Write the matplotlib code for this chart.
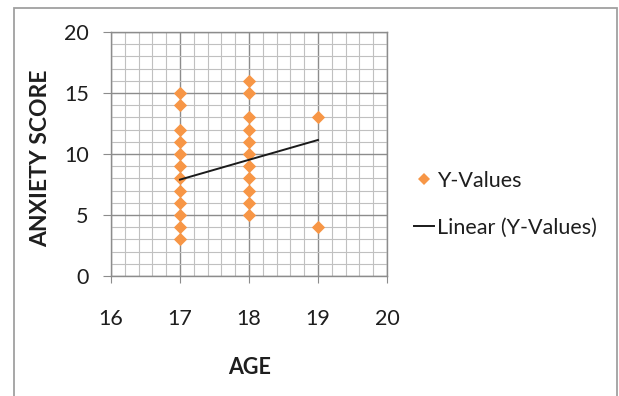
import matplotlib.pyplot as plt
from matplotlib.patches import Rectangle
from matplotlib.lines import Line2D
from matplotlib.ticker import MultipleLocator

plt.rcParams['font.family'] = ['Lato', 'DejaVu Sans']

# age / anxiety score pairs
age = [17] * 12 + [18] * 11 + [19] * 2
score = [15, 14, 12, 11, 10, 9, 8, 7, 6, 5, 4, 3,
         16, 15, 13, 12, 11, 10, 9, 8, 7, 6, 5,
         13, 4]

# linear trendline end points
trend_x = [17, 19]
trend_y = [7.9, 11.15]

x_ticks = [16, 17, 18, 19, 20]
y_ticks = [0, 5, 10, 15, 20]

orange = '#F79646'
major_grey = '#8c8c8c'
minor_grey = '#c0c0c0'
text_col = '#1e1e1e'

fig = plt.figure(figsize=(6.19, 3.96), dpi=100)
ax = fig.add_axes([0.1793, 0.3030, 0.4459, 0.6162])

ax.scatter(age, score, marker='D', s=46, color=orange, zorder=3, linewidths=0)
ax.plot(trend_x, trend_y, color='#1a1a1a', lw=1.4, zorder=4)

ax.set_xlim(16, 20)
ax.set_ylim(0, 20)
ax.set_xticks(x_ticks)
ax.set_yticks(y_ticks)
ax.xaxis.set_minor_locator(MultipleLocator(0.2))
ax.yaxis.set_minor_locator(MultipleLocator(1))
ax.grid(which='minor', color=minor_grey, lw=0.8, zorder=0)
ax.grid(which='major', color=major_grey, lw=1.0, zorder=1)
ax.set_axisbelow(True)

for s in ax.spines.values():
    s.set_color(major_grey)
    s.set_linewidth(1.0)

ax.tick_params(which='minor', length=0)
ax.tick_params(axis='y', which='major', length=6, color=major_grey,
               pad=10, labelsize=15.5, labelcolor=text_col)
ax.tick_params(axis='x', which='major', length=5, color=major_grey,
               pad=19, labelsize=15.5, labelcolor=text_col)

fig.text(41 / 619, 1 - 158 / 396, 'ANXIETY SCORE', rotation=90, fontsize=16.5,
         fontweight='bold', ha='center', va='center', color=text_col)
fig.text(250 / 619, 1 - 367 / 396, 'AGE', fontsize=15.5, fontweight='bold',
         ha='center', va='center', color=text_col)

handles = [
    Line2D([], [], marker='D', ls='none', color=orange, markersize=6, markeredgewidth=0),
    Line2D([], [], color='#1a1a1a', lw=1.4),
]
fig.legend(handles, ['Y-Values', 'Linear (Y-Values)'],
           loc='center left', bbox_to_anchor=(414 / 619, 1 - 204 / 396),
           frameon=False, fontsize=15.5, handlelength=0.95, handletextpad=0.12,
           labelspacing=1.25, borderaxespad=0, borderpad=0, labelcolor=text_col)

# chart area border
fig.patches.append(Rectangle((14 / 619, -0.02), 603 / 619, 1 - 8 / 396 + 0.02,
                             transform=fig.transFigure, fill=False,
                             edgecolor='#a0a0a0', lw=1.3))

fig.savefig('out.png', dpi=100)
